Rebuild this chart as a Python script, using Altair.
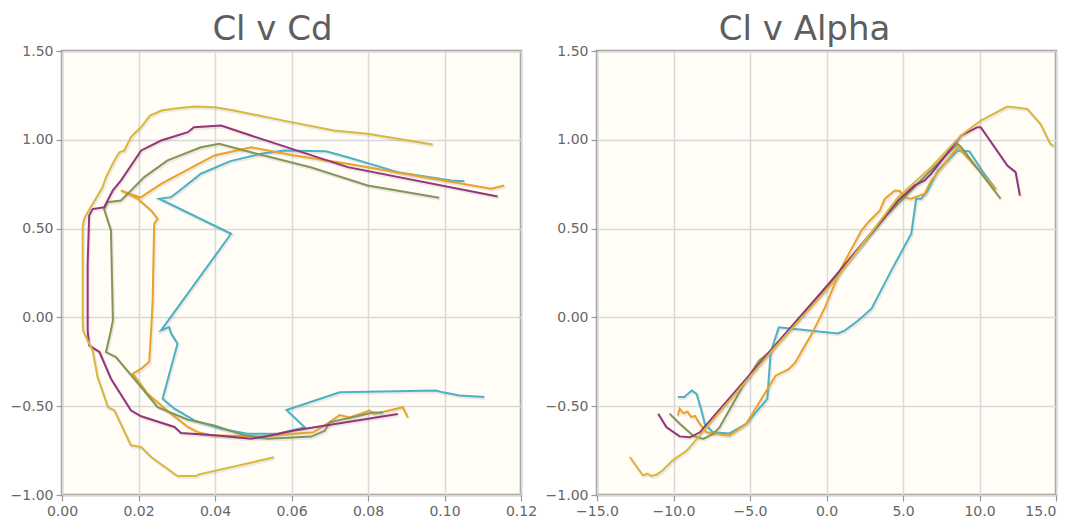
import altair as alt
import pandas as pd

series_names = ["S1", "S2", "S3", "S4", "S5"]
series_colors = ["#4bb2c5", "#EAA228", "#839557", "#953579", "#d8b83f"]

# ---------------- Cl v Cd ----------------
cd_teal = [0.1052, 0.1017, 0.0878, 0.0747, 0.069, 0.058, 0.052, 0.044, 0.0363, 0.0302, 0.0285, 0.0254, 0.0442, 0.0259, 0.028, 0.0285, 0.0302, 0.0263, 0.0294, 0.0346, 0.0416, 0.0485, 0.0564, 0.0635, 0.0587, 0.0726, 0.0978, 0.0996, 0.1039, 0.1104]
cl_cd_teal = [0.767, 0.771, 0.818, 0.902, 0.936, 0.94, 0.921, 0.88, 0.809, 0.705, 0.677, 0.668, 0.471, -0.073, -0.055, -0.09, -0.148, -0.458, -0.514, -0.58, -0.627, -0.655, -0.655, -0.619, -0.521, -0.422, -0.412, -0.422, -0.44, -0.448]

cd_orange = [0.1156, 0.1122, 0.0747, 0.0600, 0.0494, 0.0398, 0.0259, 0.0205, 0.0154, 0.0198, 0.0233, 0.025, 0.0241, 0.0237, 0.0233, 0.0228, 0.0207, 0.0185, 0.0224, 0.0285, 0.0329, 0.0355, 0.039, 0.052, 0.0657, 0.0692, 0.0726, 0.0752, 0.0804, 0.0817, 0.0891, 0.0904]
cl_cd_orange = [0.743, 0.724, 0.865, 0.915, 0.958, 0.912, 0.752, 0.675, 0.715, 0.668, 0.602, 0.555, 0.527, 0.096, -0.073, -0.25, -0.289, -0.317, -0.43, -0.542, -0.617, -0.646, -0.664, -0.67, -0.647, -0.6, -0.55, -0.563, -0.525, -0.544, -0.506, -0.563]

cd_green = [0.0986, 0.0799, 0.065, 0.0494, 0.0411, 0.0363, 0.0276, 0.0215, 0.0172, 0.0154, 0.0119, 0.011, 0.0128, 0.0133, 0.0128, 0.0124, 0.0115, 0.0141, 0.0207, 0.025, 0.0329, 0.0398, 0.0477, 0.0538, 0.0652, 0.0687, 0.070, 0.0813, 0.0839]
cl_cd_green = [0.674, 0.743, 0.845, 0.93, 0.977, 0.958, 0.884, 0.79, 0.696, 0.658, 0.649, 0.61, 0.49, -0.017, -0.073, -0.11, -0.195, -0.223, -0.392, -0.505, -0.576, -0.608, -0.664, -0.683, -0.671, -0.638, -0.591, -0.535, -0.535]

cd_purple = [0.1139, 0.0747, 0.0494, 0.0416, 0.0345, 0.0329, 0.0259, 0.0207, 0.0154, 0.0133, 0.011, 0.008, 0.0071, 0.0067, 0.0067, 0.0071, 0.0098, 0.0128, 0.018, 0.0207, 0.0294, 0.0311, 0.0398, 0.0494, 0.0538, 0.0607, 0.0878]
cl_cd_purple = [0.681, 0.846, 1.024, 1.08, 1.071, 1.043, 0.996, 0.94, 0.77, 0.715, 0.62, 0.61, 0.574, 0.3, -0.073, -0.158, -0.195, -0.345, -0.523, -0.557, -0.617, -0.651, -0.664, -0.683, -0.668, -0.637, -0.544]

cd_yellow = [0.0969, 0.0799, 0.0711, 0.058, 0.045, 0.040, 0.0346, 0.029, 0.026, 0.023, 0.021, 0.018, 0.0163, 0.015, 0.0137, 0.0115, 0.0106, 0.007, 0.0058, 0.0054, 0.0054, 0.0055, 0.0067, 0.008, 0.0093, 0.012, 0.0137, 0.018, 0.0207, 0.0233, 0.0302, 0.035, 0.0358, 0.0554]
cl_cd_yellow = [0.974, 1.034, 1.052, 1.108, 1.165, 1.183, 1.187, 1.175, 1.165, 1.137, 1.08, 1.015, 0.94, 0.93, 0.884, 0.79, 0.733, 0.602, 0.557, 0.508, 0.0, -0.073, -0.13, -0.186, -0.336, -0.505, -0.523, -0.72, -0.73, -0.786, -0.893, -0.893, -0.884, -0.788]

# ---------------- Cl v Alpha ----------------
alpha_teal = [-9.72, -9.3, -8.81, -8.49, -8.17, -7.95, -7.42, -6.34, -5.26, -3.87, -3.65, -3.12, 0.75, 1.21, 2.05, 2.94, 4.24, 5.54, 5.86, 6.19, 6.62, 7.27, 8.57, 9.33, 9.66, 10.3, 11.06]
cl_alpha_teal = [-0.448, -0.448, -0.412, -0.431, -0.525, -0.6, -0.647, -0.653, -0.6, -0.459, -0.197, -0.056, -0.09, -0.073, -0.019, 0.049, 0.265, 0.471, 0.668, 0.668, 0.715, 0.827, 0.94, 0.936, 0.893, 0.809, 0.724]

alpha_orange = [-9.72, -9.6, -9.35, -9.1, -8.85, -8.6, -8.28, -7.85, -6.34, -5.26, -4.19, -3.33, -2.47, -2.04, -0.97, -0.1, 0.99, 2.29, 2.73, 3.49, 3.81, 4.46, 4.8, 5.0, 5.54, 6.41, 6.84, 8.57, 8.79, 11.06]
cl_alpha_orange = [-0.552, -0.514, -0.54, -0.53, -0.56, -0.555, -0.6, -0.647, -0.666, -0.6, -0.45, -0.328, -0.291, -0.253, -0.094, 0.056, 0.283, 0.49, 0.536, 0.602, 0.668, 0.715, 0.712, 0.677, 0.668, 0.696, 0.771, 0.958, 0.94, 0.724]

alpha_green = [-10.26, -9.57, -8.71, -8.06, -7.42, -6.99, -5.26, -4.41, -3.76, 0.0, 4.0, 6.5, 8.57, 8.79, 11.38]
cl_alpha_green = [-0.542, -0.6, -0.666, -0.684, -0.656, -0.619, -0.356, -0.244, -0.197, 0.17, 0.58, 0.8, 0.977, 0.96, 0.668]

alpha_purple = [-11.0, -10.47, -9.6, -8.92, -8.28, 0.32, 4.68, 5.76, 6.41, 6.84, 8.79, 9.87, 10.08, 11.82, 12.36, 12.64]
cl_alpha_purple = [-0.542, -0.617, -0.67, -0.675, -0.647, 0.207, 0.658, 0.743, 0.771, 0.809, 1.024, 1.071, 1.071, 0.855, 0.818, 0.686]

alpha_yellow = [-12.86, -12.0, -11.7, -11.45, -11.1, -10.7, -10.05, -9.13, -3.44, 0.54, 4.68, 6.84, 8.79, 10.08, 11.82, 13.12, 13.98, 14.63, 14.85]
cl_alpha_yellow = [-0.786, -0.889, -0.88, -0.893, -0.885, -0.861, -0.805, -0.75, -0.176, 0.207, 0.677, 0.846, 1.024, 1.108, 1.187, 1.174, 1.09, 0.977, 0.965]

y_ticks = [-1.0, -0.5, 0.0, 0.5, 1.0, 1.5]
cd_ticks = [0.0, 0.02, 0.04, 0.06, 0.08, 0.10, 0.12]
alpha_ticks = [-15, -10, -5, 0, 5, 10, 15]


def build(xs_list, ys_list):
    rows = []
    for name, xs, ys in zip(series_names, xs_list, ys_list):
        for i, (xv, yv) in enumerate(zip(xs, ys)):
            rows.append({"series": name, "idx": i, "x": xv, "cl": yv})
    return pd.DataFrame(rows)


df_cd = build([cd_teal, cd_orange, cd_green, cd_purple, cd_yellow],
              [cl_cd_teal, cl_cd_orange, cl_cd_green, cl_cd_purple, cl_cd_yellow])
df_alpha = build([alpha_teal, alpha_orange, alpha_green, alpha_purple, alpha_yellow],
                 [cl_alpha_teal, cl_alpha_orange, cl_alpha_green, cl_alpha_purple, cl_alpha_yellow])

W, H = 459, 444


def panel(df, ticks, fmt, dom, title, flush_last, title_dx):
    if flush_last:
        label_align = {"condition": {"test": "datum.value >= 15", "value": "right"}, "value": "center"}
    else:
        label_align = "center"
    x_enc = alt.X("x:Q", scale=alt.Scale(domain=dom, nice=False, zero=False),
                  axis=alt.Axis(values=ticks, format=fmt, title=None, labelFlush=False,
                                labelAlign=label_align))
    y_enc = alt.Y("cl:Q", scale=alt.Scale(domain=[-1.0, 1.5], nice=False, zero=False),
                  axis=alt.Axis(values=y_ticks, format=".2f", title=None))
    base = alt.Chart(df)
    shadow = base.mark_line(color="#000000", opacity=0.08, strokeWidth=3, xOffset=1, yOffset=1.5,
                            clip=True).encode(x=x_enc, y=y_enc, detail="series:N", order="idx:Q")
    lines = base.mark_line(strokeWidth=2, clip=True).encode(
        x=x_enc, y=y_enc,
        color=alt.Color("series:N", scale=alt.Scale(domain=series_names, range=series_colors), legend=None),
        order="idx:Q")
    return alt.layer(shadow, lines).properties(
        width=W, height=H,
        title=alt.TitleParams(title, fontSize=34, font="DejaVu Sans", color="#5e5e5e",
                              fontWeight="normal", anchor="middle", offset=-3, dx=title_dx))


left = panel(df_cd, cd_ticks, ".2f", [0.0, 0.12], "Cl v Cd", False, -19)
right = panel(df_alpha, alpha_ticks, ".1f", [-15, 15], "Cl v Alpha", True, -22)

chart = alt.hconcat(left, right, spacing=5).properties(
    padding={"left": 0, "top": 3, "right": 5, "bottom": 0},
    background="#ffffff",
).configure_view(
    fill="#fffdf6", stroke="#9a9a9a", strokeWidth=2.5
).configure_axis(
    grid=True, gridColor="#d9d9d9", gridWidth=1.5, domain=False,
    tickSize=6, tickColor="#999999", tickWidth=1.2,
    labelColor="#666666", labelFont="DejaVu Sans", labelFontSize=14, labelPadding=3,
)

chart.save("out.html", embed_options={"renderer": "svg", "actions": False})
